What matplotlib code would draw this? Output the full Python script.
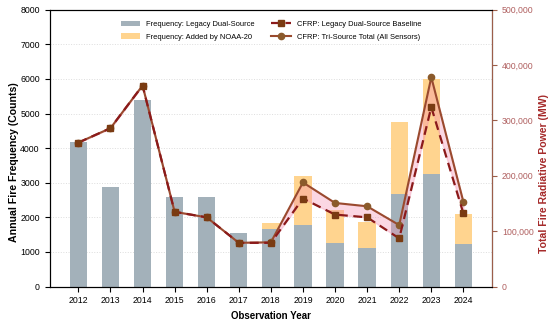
import numpy as np
import matplotlib.pyplot as plt

# Fire data by year
years = [2012, 2013, 2014, 2015, 2016, 2017, 2018, 2019, 2020, 2021, 2022, 2023, 2024]
freq_legacy = [4180, 2880, 5380, 2590, 2600, 1560, 1660, 1770, 1260, 1110, 2670, 3240, 1230]
freq_added = [0, 0, 0, 0, 0, 0, 190, 1420, 950, 760, 2090, 2770, 860]
cfrp_legacy = [260000, 286000, 363000, 135000, 125000, 79000, 79000, 159000, 130000, 125000, 87000, 324000, 132000]
cfrp_total = [260000, 286000, 363000, 135000, 125000, 79000, 80000, 188000, 151000, 145000, 111000, 378000, 153000]

plt.rcParams['font.family'] = ['Liberation Sans', 'DejaVu Sans']

fig, ax = plt.subplots(figsize=(5.5, 3.22), dpi=100)
x = np.arange(len(years))

b1 = ax.bar(x, freq_legacy, width=0.54, color='#a3b1ba', label='Frequency: Legacy Dual-Source', zorder=2)
b2 = ax.bar(x, freq_added, width=0.54, bottom=freq_legacy, color='#ffd48f',
            label='Frequency: Added by NOAA-20', zorder=2)

ax.set_ylim(0, 8000)
ax.set_xlim(-0.9, 12.9)
ax.set_xticks(x)
ax.set_xticklabels(years, fontsize=6.3)
ax.tick_params(axis='y', labelsize=6.3)
ax.set_xlabel('Observation Year', fontsize=7, fontweight='bold')
ax.set_ylabel('Annual Fire Frequency (Counts)', fontsize=7.6, fontweight='bold')
ax.yaxis.set_label_coords(-0.07, 0.45)
ax.grid(axis='y', linestyle=':', color='#dddddd', linewidth=0.7, zorder=0)

ax2 = ax.twinx()
ax2.fill_between(x, cfrp_legacy, cfrp_total, color='#f48fb1', alpha=0.35, zorder=3)
l2, = ax2.plot(x, cfrp_total, linestyle='-', color='#9a4a2e', linewidth=1.5,
               marker='o', markersize=4.5, markerfacecolor='#8b5a2b', markeredgecolor='#8b5a2b',
               label='CFRP: Tri-Source Total (All Sensors)', zorder=4)
l1, = ax2.plot(x, cfrp_legacy, linestyle=(0, (4, 2.5)), color='#8b1a1a', linewidth=1.6,
               marker='s', markersize=5, markerfacecolor='#7a3b12', markeredgecolor='#7a3b12',
               label='CFRP: Legacy Dual-Source Baseline', zorder=5)
ax2.set_ylim(0, 500000)
ax2.yaxis.set_major_formatter(plt.FuncFormatter(lambda v, p: f'{int(v):,}'))
ax2.tick_params(axis='y', labelsize=6.3, colors='#b06060', color='#9c5e4a')
ax2.set_ylabel('Total Fire Radiative Power (MW)', fontsize=7.6, fontweight='bold', color='#a52a2a')
ax2.yaxis.set_label_coords(1.105, 0.41)
ax2.spines['right'].set_color('#9c5e4a')

ax.legend([b1, b2, l1, l2], [b1.get_label(), b2.get_label(), l1.get_label(), l2.get_label()],
          loc='upper center', ncol=2, frameon=False, fontsize=5.4, columnspacing=2.2,
          labelspacing=0.75, handlelength=2.6, bbox_to_anchor=(0.5, 0.985))

plt.subplots_adjust(left=0.09, right=0.895, top=0.97, bottom=0.11)
plt.savefig('out.png')
